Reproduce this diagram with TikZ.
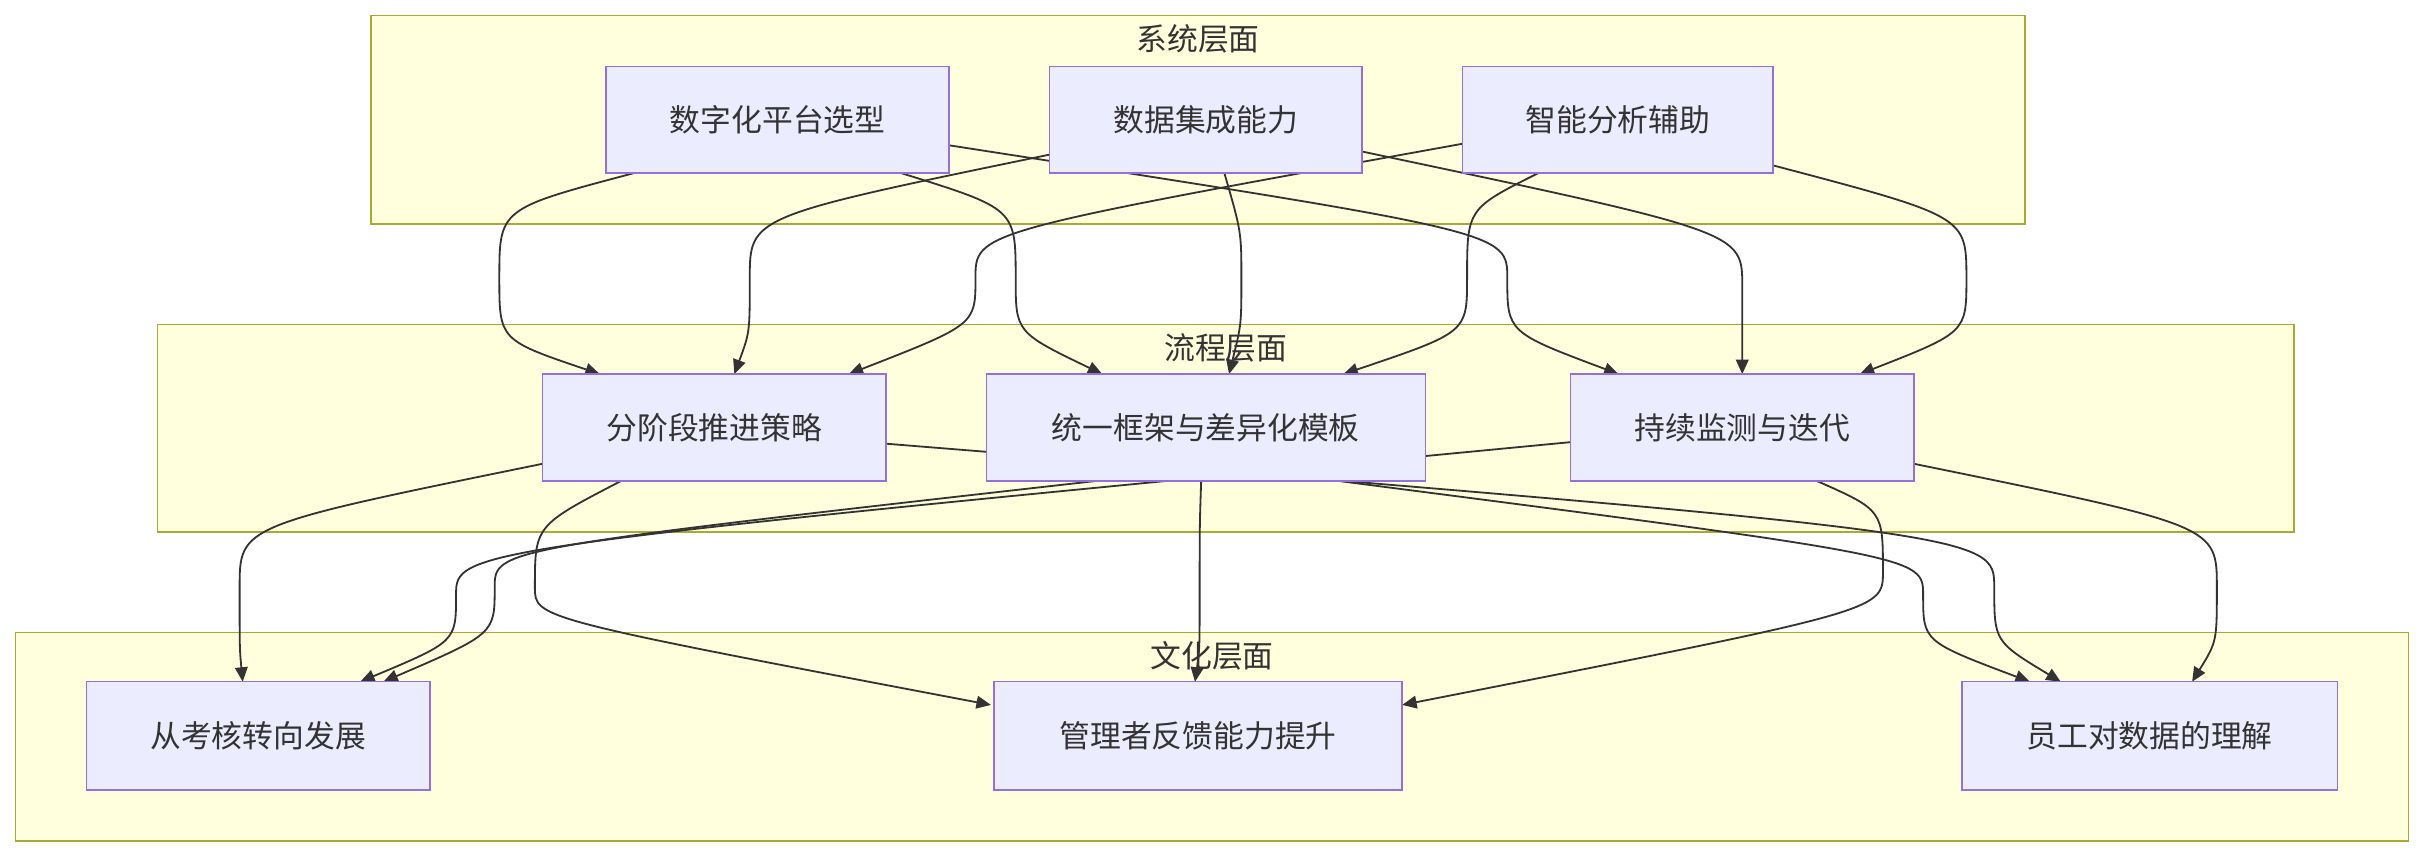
\documentclass[tikz,border=0pt]{standalone}
\usepackage{fontspec}
\newfontfamily\cjk{Noto Sans CJK SC}
\usetikzlibrary{calc,backgrounds,arrows.meta}
\definecolor{clfill}{HTML}{FFFFDE}
\definecolor{cldraw}{HTML}{AAAA33}
\definecolor{ndfill}{HTML}{ECECFF}
\definecolor{nddraw}{HTML}{9370DB}
\definecolor{edg}{HTML}{333333}
\tikzset{
  box/.style={draw=nddraw,fill=ndfill,line width=0.8pt,inner sep=0pt,font=\cjk\fontsize{17}{20}\selectfont,text=edg},
  cluster/.style={draw=cldraw,fill=clfill,line width=0.8pt},
  ctitle/.style={font=\cjk\fontsize{17}{20}\selectfont,text=edg},
  e/.style={draw=edg,line width=1pt,-{Triangle[length=8pt,width=7pt]}}
}
\newcommand\edge[8]{\draw[e] ($(#1)+(#2)$) .. controls (#3,#4) .. (#3,#5) .. controls (#3,#6) .. ($(#7)+(#8)$);}
\begin{document}
\begin{tikzpicture}[x=0.03cm,y=-0.03cm]
\useasboundingbox (0,0) rectangle (1568,553.7);
\node[box,minimum width=6.66cm,minimum height=2.07cm] (A) at (503,77.5) {数字化平台选型};
\node[box,minimum width=6.06cm,minimum height=2.07cm] (B) at (780,77.5) {数据集成能力};
\node[box,minimum width=6.03cm,minimum height=2.07cm] (C) at (1046.5,77.5) {智能分析辅助};
\node[box,minimum width=6.66cm,minimum height=2.07cm] (P1) at (462,276.5) {分阶段推进策略};
\node[box,minimum width=8.52cm,minimum height=2.07cm] (P2) at (780,276.5) {统一框架与差异化模板};
\node[box,minimum width=6.66cm,minimum height=2.07cm] (P3) at (1127,276.5) {持续监测与迭代};
\node[box,minimum width=6.66cm,minimum height=2.1cm] (K1) at (167,476) {从考核转向发展};
\node[box,minimum width=7.92cm,minimum height=2.1cm] (K2) at (775,476) {管理者反馈能力提升};
\node[box,minimum width=7.29cm,minimum height=2.1cm] (K3) at (1390.5,476) {员工对数据的理解};
\begin{scope}[on background layer]
\fill[white] (0,0) rectangle (1568,553.7);
\draw[cluster] (240,10) rectangle (1310,145);
\draw[cluster] (102,210) rectangle (1484,344);
\draw[cluster] (10,409) rectangle (1558,544);
\node[ctitle] (t1) at (775,25) {系统层面};
\node[ctitle] (t2) at (793,225) {流程层面};
\node[ctitle] (t3) at (784,424) {文化层面};
\edge{A}{-93,34.5}{323}{135}{180}{220}{P1}{-74,-34.5}
\edge{A}{80,34.5}{657}{135}{180}{215}{P2}{-67,-34.5}
\edge{A}{111,16.5}{975}{150}{180}{215}{P3}{-80,-34.5}
\edge{B}{-101,22.5}{485}{140}{180}{215}{P1}{13,-34.5}
\edge{B}{12,34.5}{803}{150}{180}{210}{P2}{15,-34.5}
\edge{B}{101,20.5}{1127}{150}{185}{200}{P3}{0,-34.5}
\edge{C}{-100.5,15.5}{631}{150}{180}{210}{P1}{87,-34.5}
\edge{C}{-51.5,34.5}{949}{135}{180}{215}{P2}{89,-34.5}
\edge{C}{100.5,29.5}{1272}{140}{180}{215}{P3}{76,-34.5}
\edge{P1}{-111,23.5}{155}{340}{380}{420}{K1}{-10,-35}
\edge{P1}{-60,34.5}{346}{340}{380}{400}{K2}{-134,-20}
\edge{P1}{111,10.5}{1290}{345}{380}{415}{K3}{-57.5,-35}
\edge{P2}{-70,34.5}{320}{355}{380}{410}{K1}{81,-35}
\edge{P2}{-3,34.5}{776}{340}{380}{420}{K2}{-2,-35}
\edge{P2}{85,34.5}{1244}{360}{385}{415}{K3}{-77.5,-35}
\edge{P3}{48,34.5}{1218}{330}{370}{395}{K2}{132,-20}
\edge{P3}{111,23.5}{1434}{340}{380}{415}{K3}{27.5,-35}
\edge{P3}{-111,9.5}{295}{355}{385}{415}{K1}{66,-35}
\end{scope}
\end{tikzpicture}
\end{document}
